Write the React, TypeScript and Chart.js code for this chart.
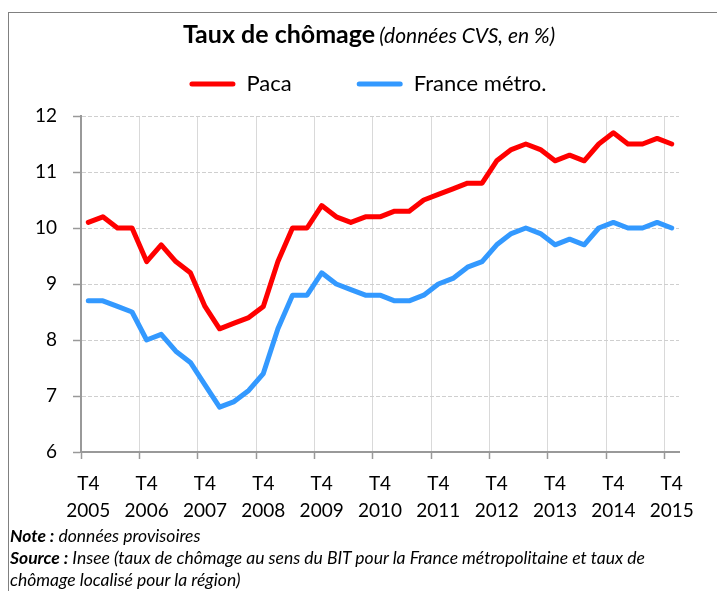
import React, { useEffect, useRef } from "react";
import { Chart, registerables } from "chart.js";

Chart.register(...registerables);

const quarters: string[] = [
  "T4 2005",
  "T1 2006", "T2 2006", "T3 2006", "T4 2006",
  "T1 2007", "T2 2007", "T3 2007", "T4 2007",
  "T1 2008", "T2 2008", "T3 2008", "T4 2008",
  "T1 2009", "T2 2009", "T3 2009", "T4 2009",
  "T1 2010", "T2 2010", "T3 2010", "T4 2010",
  "T1 2011", "T2 2011", "T3 2011", "T4 2011",
  "T1 2012", "T2 2012", "T3 2012", "T4 2012",
  "T1 2013", "T2 2013", "T3 2013", "T4 2013",
  "T1 2014", "T2 2014", "T3 2014", "T4 2014",
  "T1 2015", "T2 2015", "T3 2015", "T4 2015",
];

const paca: number[] = [
  10.1, 10.2, 10.0, 10.0, 9.4, 9.7, 9.4, 9.2, 8.6, 8.2, 8.3, 8.4, 8.6, 9.4,
  10.0, 10.0, 10.4, 10.2, 10.1, 10.2, 10.2, 10.3, 10.3, 10.5, 10.6, 10.7,
  10.8, 10.8, 11.2, 11.4, 11.5, 11.4, 11.2, 11.3, 11.2, 11.5, 11.7, 11.5,
  11.5, 11.6, 11.5,
];

const franceMetro: number[] = [
  8.7, 8.7, 8.6, 8.5, 8.0, 8.1, 7.8, 7.6, 7.2, 6.8, 6.9, 7.1, 7.4, 8.2, 8.8,
  8.8, 9.2, 9.0, 8.9, 8.8, 8.8, 8.7, 8.7, 8.8, 9.0, 9.1, 9.3, 9.4, 9.7, 9.9,
  10.0, 9.9, 9.7, 9.8, 9.7, 10.0, 10.1, 10.0, 10.0, 10.1, 10.0,
];

const seriesNames: string[] = ["Paca", "France métro."];
const yMin = 6;
const yMax = 12;
const yStep = 1;

const FONT = "Lato, 'Open Sans', sans-serif";
const CANVAS_TOP = 8;
const CANVAS_H = 530 - CANVAS_TOP;

export default function App() {
  const canvasRef = useRef<HTMLCanvasElement | null>(null);

  useEffect(() => {
    if (!canvasRef.current) return;
    Chart.defaults.font.family = FONT;
    const chart = new Chart(canvasRef.current, {
      type: "line",
      data: {
        labels: quarters,
        datasets: [
          {
            label: seriesNames[0],
            data: paca,
            borderColor: "#ff0000",
            backgroundColor: "#ff0000",
            borderWidth: 5,
            pointRadius: 0,
            tension: 0,
            borderJoinStyle: "round",
            borderCapStyle: "round",
          },
          {
            label: seriesNames[1],
            data: franceMetro,
            borderColor: "#3399ff",
            backgroundColor: "#3399ff",
            borderWidth: 5,
            pointRadius: 0,
            tension: 0,
            borderJoinStyle: "round",
            borderCapStyle: "round",
          },
        ],
      },
      options: {
        responsive: false,
        animation: false,
        layout: { padding: 0 },
        plugins: {
          tooltip: { enabled: false },
          title: { display: false },
          subtitle: {
            display: true,
            text: "",
            weight: 500,
            font: { size: 10, lineHeight: 1 },
            padding: { top: 0, bottom: 1 },
          } as any,
          legend: {
            display: true,
            position: "top",
            labels: {
              boxWidth: 46,
              boxHeight: 5,
              padding: 65,
              color: "#000",
              font: { size: 22, family: FONT },
              useBorderRadius: true,
              borderRadius: 2.5,
              generateLabels: (c: any) =>
                Chart.defaults.plugins.legend.labels
                  .generateLabels(c)
                  .map((it: any) => ({ ...it, lineWidth: 0 })),
            },
          },
        },
        scales: {
          x: {
            type: "category",
            offset: true,
            grid: {
              offset: true,
              display: true,
              drawOnChartArea: true,
              drawTicks: true,
              tickLength: 7,
              lineWidth: 1,
              color: (ctx: any) =>
                ctx.tick && ctx.index % 4 === 0 ? "#d9d9d9" : "rgba(0,0,0,0)",
              tickColor: (ctx: any) =>
                ctx.tick && ctx.index % 4 === 0 ? "#999999" : "rgba(0,0,0,0)",
              tickWidth: 1.5,
            },
            border: { display: true, color: "#999999", width: 2 },
            ticks: {
              autoSkip: false,
              maxRotation: 0,
              minRotation: 0,
              padding: 12,
              color: "#000",
              font: { size: 19, lineHeight: 1.4 },
              callback: (_v: any, i: number) =>
                i % 4 === 0 ? quarters[i].split(" ") : "",
            },
            afterFit: (s: any) => {
              s.height = 78;
            },
          },
          y: {
            type: "linear",
            position: "left",
            min: yMin,
            max: yMax,
            grid: {
              color: "#cfcfcf",
              lineWidth: 1,
              drawTicks: true,
              tickLength: 8,
              tickColor: "#999999",
              tickWidth: 1.5,
              tickBorderDash: [],
            },
            border: { display: true, color: "#999999", width: 2, dash: [4, 2] },
            ticks: {
              stepSize: yStep,
              padding: 16,
              color: "#000",
              font: { size: 19 },
            },
            afterFit: (s: any) => {
              s.width = 73;
            },
          },
          y2: {
            type: "linear",
            position: "right",
            display: true,
            grid: { display: false, drawTicks: false },
            border: { display: false },
            ticks: { display: false },
            afterFit: (s: any) => {
              s.width = 49;
            },
          },
        },
      } as any,
    });
    return () => chart.destroy();
  }, []);

  return (
    <div
      style={{
        position: "fixed",
        left: 0,
        top: 0,
        width: 717,
        height: 591,
        overflow: "hidden",
        background: "#fff",
        fontFamily: FONT,
      }}
    >
      <div
        style={{
          position: "absolute",
          left: 8,
          top: 12,
          width: 800,
          height: 700,
          borderLeft: "1px solid #808080",
          borderTop: "1px solid #808080",
        }}
      />
      <div
        style={{
          position: "absolute",
          left: 0,
          top: 18,
          width: 738,
          textAlign: "center",
          lineHeight: "30px",
          color: "#000",
          whiteSpace: "nowrap",
          zIndex: 2,
        }}
      >
        <span style={{ fontWeight: 700, fontSize: 25 }}>Taux de chômage</span>{" "}
        <span style={{ fontStyle: "italic", fontSize: 21 }}>
          (données CVS, en %)
        </span>
      </div>
      <canvas
        ref={canvasRef}
        width={720}
        height={CANVAS_H}
        style={{
          position: "absolute",
          left: 8,
          top: CANVAS_TOP,
          width: 720,
          height: CANVAS_H,
        }}
      />
      <div
        style={{
          position: "absolute",
          left: 10,
          top: 525,
          fontSize: 17.5,
          lineHeight: "22px",
          fontStyle: "italic",
          color: "#000",
          whiteSpace: "nowrap",
        }}
      >
        <div>
          <b>Note :</b> données provisoires
        </div>
        <div>
          <b>Source :</b> Insee (taux de chômage au sens du BIT pour la France
          métropolitaine et taux de
        </div>
        <div>chômage localisé pour la région)</div>
      </div>
    </div>
  );
}
